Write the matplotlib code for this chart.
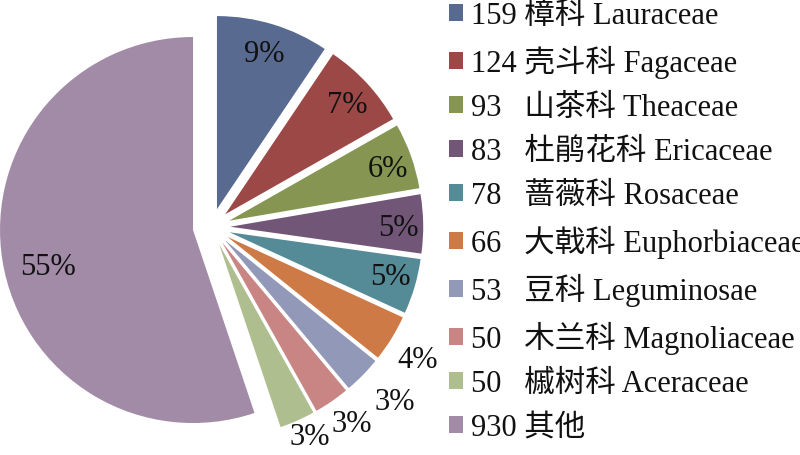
import numpy as np
import matplotlib
matplotlib.use("Agg")
import matplotlib.pyplot as plt

# Species counts per plant family
counts = [159, 124, 93, 83, 78, 66, 53, 50, 50, 930]
families_cn = ["樟科", "壳斗科", "山茶科", "杜鹃花科", "蔷薇科", "大戟科", "豆科", "木兰科", "槭树科", "其他"]
families_en = ["Lauraceae", "Fagaceae", "Theaceae", "Ericaceae", "Rosaceae",
               "Euphorbiaceae", "Leguminosae", "Magnoliaceae", "Aceraceae", ""]

colors = ["#586A8F", "#9C4846", "#869652", "#725678", "#558B97",
          "#CD7A47", "#9299B8", "#C88584", "#AEBE8E", "#A28BA6"]

# label placement: radial distance (in radii, from pie centre) and angular shift (deg)
label_dist = [0.94, 0.95, 0.96, 0.97, 0.96, 1.27, 1.31, 1.25, 1.20, 0.87]
label_shift = [0, -0.8, -1.4, -0.9, 0.7, -0.9, 0.8, 0.9, 1.3, 4.4]

serif = ["Liberation Serif", "Noto Sans CJK SC", "DejaVu Sans"]

W, H = 800, 456
fig = plt.figure(figsize=(W / 100, H / 100), dpi=100)
fig.patch.set_facecolor("white")

# pie axes: square, centred at (211.5, 228) px, radius 193 px
R_px = 193.0
cx, cy = 211.5, 228.0
side = 456.0
ax = fig.add_axes([(cx - side / 2) / W, (cy - side / 2) / H, side / W, side / H])
lim = side / 2 / R_px

wedges, _, autotexts = ax.pie(
    counts, colors=colors, startangle=90, counterclock=False,
    explode=[0.097] * len(counts), radius=1.0,
    autopct="%1.0f%%", pctdistance=0.85,
    wedgeprops=dict(linewidth=0),
    textprops=dict(family=serif, fontsize=22, color="#111111"),
    frame=True,
)
ax.set_xlim(-lim, lim)
ax.set_ylim(-lim, lim)
ax.set_aspect("equal")
ax.axis("off")

for w, t, d, s in zip(wedges, autotexts, label_dist, label_shift):
    mid = np.deg2rad((w.theta1 + w.theta2) / 2 + s)
    t.set_position((d * np.cos(mid), d * np.sin(mid)))
    t.set_ha("center")
    t.set_va("center")

# legend labels: pad the count so the family names line up
labels = []
for n, cn, en in zip(counts, families_cn, families_en):
    num = str(n)
    pad = " " if len(num) == 3 else "   "
    labels.append(f"{num}{pad}{cn} {en}".rstrip())

leg = fig.legend(
    wedges, labels, loc="upper left", bbox_to_anchor=(449 / W, 0.995),
    frameon=False, prop=dict(family=serif, size=22),
    handlelength=0.46, handleheight=0.46, handletextpad=0.25,
    labelspacing=0.49, borderpad=0, borderaxespad=0,
)
for txt in leg.get_texts():
    txt.set_color("#111111")

fig.savefig("out.png", dpi=100, facecolor="white")
